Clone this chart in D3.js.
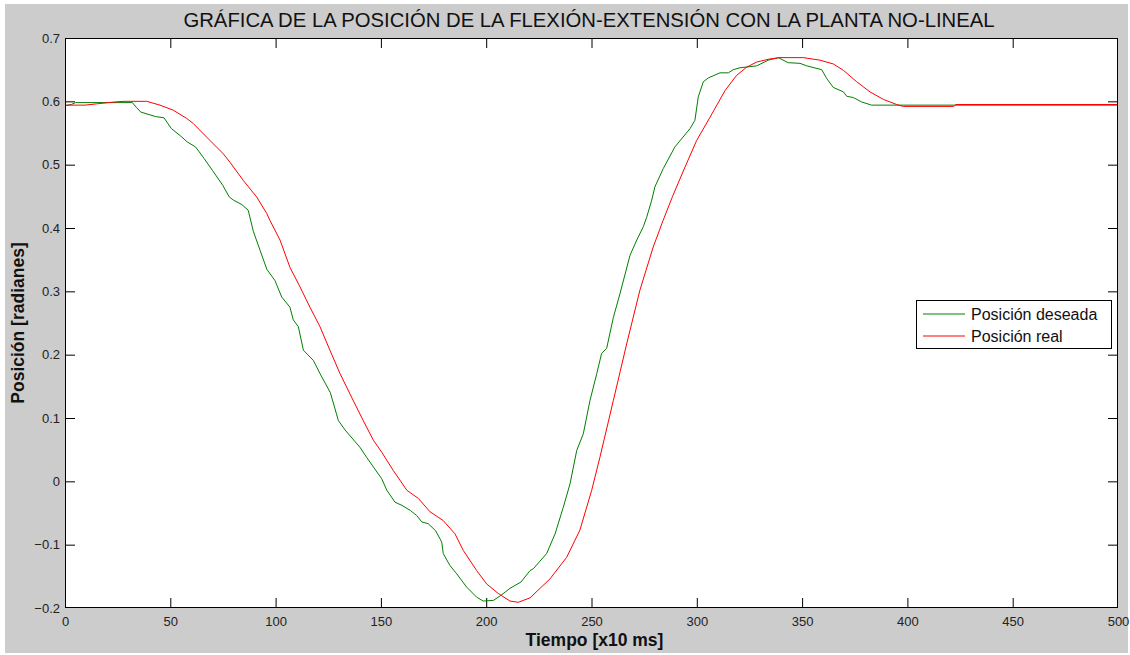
<!DOCTYPE html>
<html>
<head>
<meta charset="utf-8">
<script src="https://cdn.jsdelivr.net/npm/d3@7"></script>
<style>
  html, body { margin: 0; padding: 0; background: #ffffff; }
  svg { display: block; font-family: "Liberation Sans", Arial, sans-serif; }
</style>
</head>
<body>
<svg id="chart" width="1130" height="655"></svg>
<script>
// ---- Data ----
const titleText = "GR\u00C1FICA DE LA POSICI\u00D3N DE LA FLEXI\u00D3N-EXTENSI\u00D3N CON LA PLANTA NO-LINEAL";
const xLabel = "Tiempo [x10 ms]";
const yLabel = "Posici\u00F3n [radianes]";
const seriesNames = ["Posici\u00F3n deseada", "Posici\u00F3n real"];
const xTicks = [0, 50, 100, 150, 200, 250, 300, 350, 400, 450, 500];
const yTicks = [-0.2, -0.1, 0, 0.1, 0.2, 0.3, 0.4, 0.5, 0.6, 0.7];

const tDeseada = [0, 3, 5, 32, 34, 36, 43, 47, 50.5, 55, 58, 62, 66, 70, 75, 78, 80, 84, 87, 89.4, 92.6, 95.8, 99.7, 102.9, 106.8, 108.4, 110.8, 113.2, 117.9, 121.1, 126, 129.8, 133, 140, 143.2, 150.4, 152.8, 156.7, 160, 164, 167, 169.4, 172.5, 176, 178.9, 179.6, 182.8, 186, 190.7, 195.5, 198.6, 203.4, 206.6, 211.3, 216.5, 220.8, 222.4, 228.7, 232.7, 236.6, 239.8, 243, 246.1, 249.3, 252.5, 254.8, 257.2, 260.4, 263.5, 268.3, 271.5, 274.6, 276.2, 278.6, 280.1, 284.1, 289.6, 296.8, 299.1, 300.7, 303.1, 305.5, 311, 315, 317.3, 320.5, 328.4, 334, 338.7, 343.4, 349, 352.2, 359.3, 361.7, 364.8, 369.6, 371.2, 374.3, 378.3, 383, 500];
const vDeseada = [0.593, 0.595, 0.598, 0.598, 0.590, 0.583, 0.576, 0.574, 0.557, 0.545, 0.536, 0.528, 0.510, 0.491, 0.467, 0.449, 0.444, 0.437, 0.428, 0.395, 0.365, 0.335, 0.317, 0.291, 0.275, 0.255, 0.244, 0.207, 0.191, 0.170, 0.140, 0.096, 0.081, 0.054, 0.038, 0.004, -0.014, -0.033, -0.038, -0.046, -0.054, -0.064, -0.067, -0.078, -0.096, -0.114, -0.133, -0.146, -0.167, -0.183, -0.189, -0.188, -0.181, -0.169, -0.159, -0.141, -0.138, -0.114, -0.083, -0.041, -0.004, 0.049, 0.075, 0.128, 0.170, 0.202, 0.210, 0.259, 0.296, 0.357, 0.381, 0.402, 0.417, 0.444, 0.465, 0.494, 0.528, 0.557, 0.570, 0.607, 0.631, 0.637, 0.645, 0.645, 0.650, 0.653, 0.656, 0.665, 0.669, 0.661, 0.660, 0.656, 0.650, 0.636, 0.622, 0.615, 0.608, 0.606, 0.599, 0.594, 0.594];

const tReal = [0, 9.5, 15, 23.7, 28, 38.8, 45.1, 51.4, 57.8, 60.9, 68.9, 75.2, 78.3, 84.7, 91, 95.8, 97.3, 102.1, 106.8, 111.6, 116.3, 121.1, 125.8, 130.6, 136.5, 141.6, 146.4, 150.4, 155.9, 162.3, 167.8, 173.3, 179.6, 185.2, 189.1, 195.5, 200.2, 205.7, 211.3, 215.2, 220.8, 230.3, 238.2, 244.5, 250.1, 254, 260.4, 266.7, 273, 279.3, 284, 288.5, 293.6, 299.9, 306.3, 313.4, 318.9, 323.7, 328.4, 334.8, 339.5, 350.6, 358.5, 364.8, 369.6, 375.9, 382.2, 388.6, 394.9, 398, 422, 423, 500];
const vReal = [0.594, 0.594, 0.596, 0.599, 0.600, 0.600, 0.594, 0.586, 0.573, 0.565, 0.538, 0.517, 0.504, 0.475, 0.449, 0.423, 0.412, 0.381, 0.338, 0.307, 0.275, 0.244, 0.207, 0.170, 0.130, 0.096, 0.065, 0.046, 0.017, -0.014, -0.027, -0.048, -0.062, -0.083, -0.109, -0.141, -0.162, -0.177, -0.189, -0.191, -0.184, -0.154, -0.120, -0.077, -0.014, 0.038, 0.128, 0.217, 0.302, 0.370, 0.412, 0.450, 0.490, 0.538, 0.575, 0.617, 0.641, 0.654, 0.662, 0.667, 0.669, 0.669, 0.665, 0.659, 0.649, 0.631, 0.615, 0.603, 0.595, 0.592, 0.592, 0.595, 0.595];

const colors = ["#008000", "#ff0000"];

// ---- Layout ----
const svg = d3.select("#chart");
const W = 1130, H = 655;
const plot = { left: 65, right: 1118, top: 38, bottom: 608 };

svg.append("rect").attr("x", 5).attr("y", 4).attr("width", W - 7).attr("height", H - 6)
  .attr("fill", "#cccccc");

const x = d3.scaleLinear().domain([0, 500]).range([plot.left, plot.right]);
const y = d3.scaleLinear().domain([-0.2, 0.7]).range([plot.bottom, plot.top]);

svg.append("rect")
  .attr("x", plot.left).attr("y", plot.top)
  .attr("width", plot.right - plot.left).attr("height", plot.bottom - plot.top)
  .attr("fill", "#ffffff");

const fmt = d => d3.format("")(Math.round(d * 10) / 10);

// Axes (ticks inward)
const tickLen = 10;
const axB = svg.append("g").attr("transform", `translate(0,${plot.bottom})`)
  .call(d3.axisBottom(x).tickValues(xTicks).tickSizeInner(-tickLen).tickSizeOuter(0).tickPadding(6).tickFormat(d3.format("d")));
const axT = svg.append("g").attr("transform", `translate(0,${plot.top})`)
  .call(d3.axisTop(x).tickValues(xTicks).tickSizeInner(-tickLen).tickSizeOuter(0).tickFormat(""));
const axL = svg.append("g").attr("transform", `translate(${plot.left},0)`)
  .call(d3.axisLeft(y).tickValues(yTicks).tickSizeInner(-tickLen).tickSizeOuter(0).tickPadding(5).tickFormat(fmt));
const axR = svg.append("g").attr("transform", `translate(${plot.right},0)`)
  .call(d3.axisRight(y).tickValues(yTicks).tickSizeInner(-tickLen).tickSizeOuter(0).tickFormat(""));

[axB, axT, axL, axR].forEach(g => {
  g.select(".domain").remove();
  g.selectAll(".tick line").attr("stroke", "#000").attr("stroke-width", 1);
  g.selectAll(".tick text").attr("fill", "#222").attr("font-size", 13)
    .attr("font-family", "'Liberation Sans', Arial, sans-serif");
});
axT.selectAll(".tick text").remove();
axR.selectAll(".tick text").remove();
axB.selectAll(".tick text").attr("dy", "0.9em");
[axB, axT].forEach(g => g.selectAll(".tick line").filter(d => d === 0 || d === 500).remove());
[axL, axR].forEach(g => g.selectAll(".tick line").filter(d => Math.abs(d + 0.2) < 1e-9 || Math.abs(d - 0.7) < 1e-9).remove());

// Lines
const line = d3.line().x(d => x(d[0])).y(d => y(d[1]));
const dataD = tDeseada.map((t, i) => [t, vDeseada[i]]);
const dataR = tReal.map((t, i) => [t, vReal[i]]);

svg.append("clipPath").attr("id", "clip").append("rect")
  .attr("x", plot.left).attr("y", plot.top)
  .attr("width", plot.right - plot.left).attr("height", plot.bottom - plot.top);

const gLines = svg.append("g").attr("clip-path", "url(#clip)");
gLines.append("path").datum(dataD).attr("d", line).attr("fill", "none")
  .attr("stroke", colors[0]).attr("stroke-width", 1);
gLines.append("path").datum(dataR).attr("d", line).attr("fill", "none")
  .attr("stroke", colors[1]).attr("stroke-width", 1);

// Frame
svg.append("rect")
  .attr("x", plot.left + 0.5).attr("y", plot.top + 0.5)
  .attr("width", plot.right - plot.left - 1).attr("height", plot.bottom - plot.top - 1)
  .attr("fill", "none").attr("stroke", "#000").attr("stroke-width", 1);

// Title and labels
svg.append("text").attr("x", 589).attr("y", 27)
  .attr("text-anchor", "middle").attr("font-size", 20.3).attr("fill", "#111")
  .text(titleText);
svg.append("text").attr("x", (plot.left + plot.right) / 2 + 3).attr("y", 646)
  .attr("text-anchor", "middle").attr("font-size", 17.5).attr("font-weight", "bold").attr("fill", "#111")
  .text(xLabel);
svg.append("text").attr("transform", `translate(24,${(plot.top + plot.bottom) / 2}) rotate(-90)`)
  .attr("text-anchor", "middle").attr("font-size", 17.5).attr("font-weight", "bold").attr("fill", "#111")
  .text(yLabel);

// Legend
const lg = svg.append("g");
lg.append("rect").attr("x", 916.5).attr("y", 300.5).attr("width", 195).attr("height", 48)
  .attr("fill", "#fff").attr("stroke", "#000").attr("stroke-width", 1);
seriesNames.forEach((name, i) => {
  const yy = 314 + i * 22;
  lg.append("line").attr("x1", 923).attr("x2", 965).attr("y1", yy).attr("y2", yy)
    .attr("stroke", colors[i]).attr("stroke-width", 1);
  lg.append("text").attr("x", 971).attr("y", yy + 5.5).attr("font-size", 16).attr("fill", "#111")
    .text(name);
});
</script>
</body>
</html>
